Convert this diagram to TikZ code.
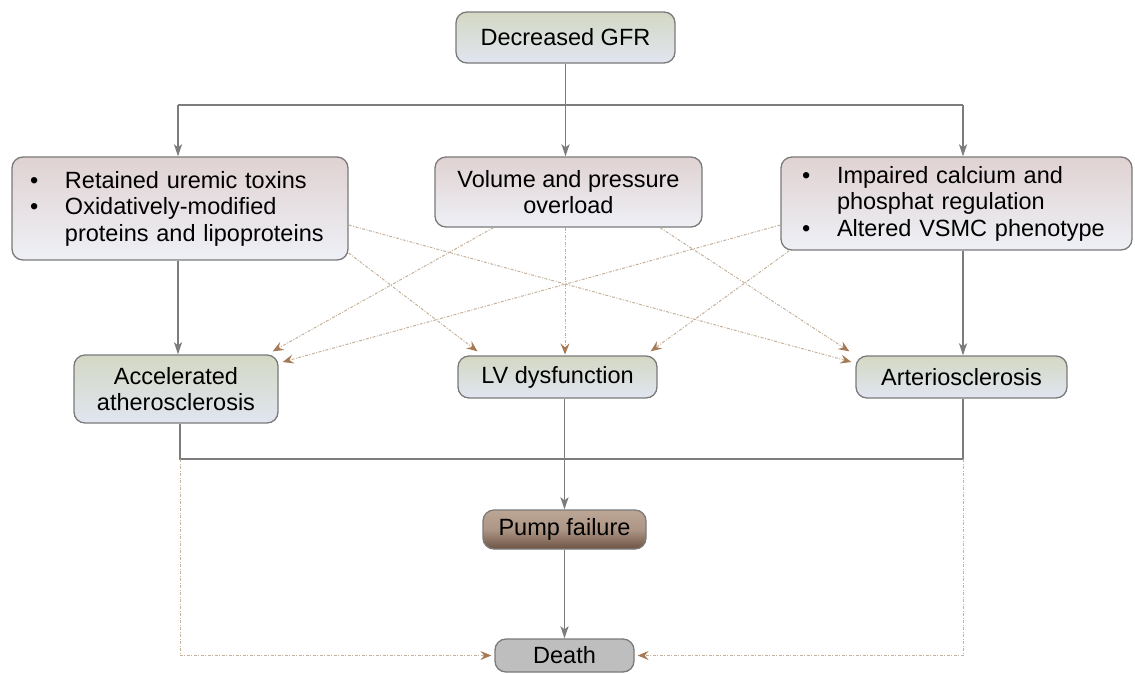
\documentclass[tikz,border=0pt]{standalone}
\usepackage{fontspec}
\setmainfont{Liberation Sans}
\usetikzlibrary{arrows.meta,calc}
\definecolor{edgec}{HTML}{7C7C7C}
\definecolor{borderc}{HTML}{7A7A7A}
\definecolor{dotc}{HTML}{C4B19C}
\definecolor{tipc}{HTML}{A57A55}
\definecolor{greentop}{HTML}{D3D8C4}
\definecolor{bluebot}{HTML}{E1E5F0}
\definecolor{pinktop}{HTML}{E0D2D2}
\definecolor{palebot}{HTML}{EEF0F6}
\definecolor{pumptop}{HTML}{BCA695}
\definecolor{pumpbot}{HTML}{6E5344}
\definecolor{deathc}{HTML}{BEBEBE}
\begin{document}
\begin{tikzpicture}[x=1pt,y=-1pt,
  font=\fontsize{23.5}{26.5}\selectfont,
  boxbase/.style={draw=borderc, line width=1.3pt, rounded corners=11pt, inner xsep=0pt, inner ysep=2pt},
  greenbox/.style={boxbase, top color=greentop, bottom color=bluebot, align=center},
  pinkbox/.style={boxbase, top color=pinktop, bottom color=palebot},
  pumpbox/.style={boxbase, top color=pumptop, bottom color=pumpbot, middle color=pumptop!80!pumpbot, align=center},
  deathbox/.style={boxbase, fill=deathc, align=center},
  ln/.style={draw=edgec, line width=1.9pt, >={Stealth[length=12pt,width=8pt,inset=3pt]}},
  dt/.style={draw=dotc, line width=1pt, dash pattern=on 3pt off 1.5pt on 1pt off 1.5pt,
     >={Stealth[length=11pt,width=9pt,inset=4pt,color=tipc]}}]
\useasboundingbox (0,0) rectangle (1135,673);

% nodes
\node[greenbox, minimum width=219pt, minimum height=51pt] (gfr) at (565.5,37.5) {Decreased GFR};
\node[pinkbox, minimum width=336pt, minimum height=103pt, text width=300pt, align=left] (tox) at (180,208.5)
  {\makebox[35pt][l]{•}Retained uremic toxins\\
   \makebox[35pt][l]{•}Oxidatively-modified\\
   \hspace*{35pt}proteins and lipoproteins};
\node[pinkbox, minimum width=267pt, minimum height=70pt, align=center] (vol) at (568.5,192)
  {Volume and pressure\\overload};
\node[pinkbox, minimum width=351pt, minimum height=93pt, text width=309pt, align=left] (cal) at (956.5,203.5)
  {\makebox[35pt][l]{•}Impaired calcium and\\
   \hspace*{35pt}phosphat regulation\\
   \makebox[35pt][l]{•}Altered VSMC phenotype};
\node[greenbox, minimum width=204pt, minimum height=68pt] (acc) at (176,389) {Accelerated\\atherosclerosis};
\node[greenbox, minimum width=199pt, minimum height=42pt] (lv) at (557.5,377) {LV dysfunction};
\node[greenbox, minimum width=211pt, minimum height=42pt] (art) at (961.5,377) {Arteriosclerosis};
\node[pumpbox, minimum width=163pt, minimum height=39pt] (pump) at (564.5,529.5) {Pump failure};
\node[deathbox, minimum width=139pt, minimum height=33pt] (death) at (564.5,655.5) {Death};

\coordinate (busL) at (178,105);
\coordinate (busR) at (963,105);
\coordinate (botL) at (180,459);
\coordinate (botR) at (963,459);

% solid connectors
\draw[ln] (gfr.south) -- (gfr.south |- busL);
\draw[ln] (busL) -- (busR);
\draw[ln,->] (busL) -- (busL |- tox.north);
\draw[ln,->] (gfr.south |- busL) -- (gfr.south |- vol.north);
\draw[ln,->] (busR) -- (busR |- cal.north);
\draw[ln,->] (busL |- tox.south) -- (busL |- acc.north);
\draw[ln,->] (busR |- cal.south) -- (busR |- art.north);
\draw[ln] (botL |- acc.south) -- (botL) -- (botR) -- (botR |- art.south);
\draw[ln,->] (pump.north |- lv.south) -- (pump.north);
\draw[ln,->] (pump.south) -- (death.north);

% dotted influences
\draw[dt,->] ([yshift=-16.5pt]tox.east) -- ([xshift=-4pt,yshift=15pt]art.west);
\draw[dt,->] ([yshift=-44.5pt]tox.east) -- ([xshift=-80pt,yshift=4pt]lv.north);
\draw[dt,->] ([xshift=-75pt]vol.south) -- ([xshift=-6pt,yshift=3pt]acc.north east);
\draw[dt,->] ([xshift=-3.5pt]vol.south) -- ([xshift=7.5pt,yshift=1pt]lv.north);
\draw[dt,->] ([xshift=91.5pt]vol.south) -- ([xshift=-6pt,yshift=4pt]art.north west);
\draw[dt,->] ([yshift=-21.5pt]cal.west) -- ([xshift=4pt,yshift=27pt]acc.east);
\draw[dt,->] ([xshift=9pt]cal.south west) -- ([xshift=-7pt,yshift=4pt]lv.north east);
\draw[dt,->] (botL) -- (botL |- death.west) -- ([xshift=-3pt]death.west);
\draw[dt,->] (botR) -- (botR |- death.east) -- ([xshift=3pt]death.east);
\end{tikzpicture}
\end{document}
